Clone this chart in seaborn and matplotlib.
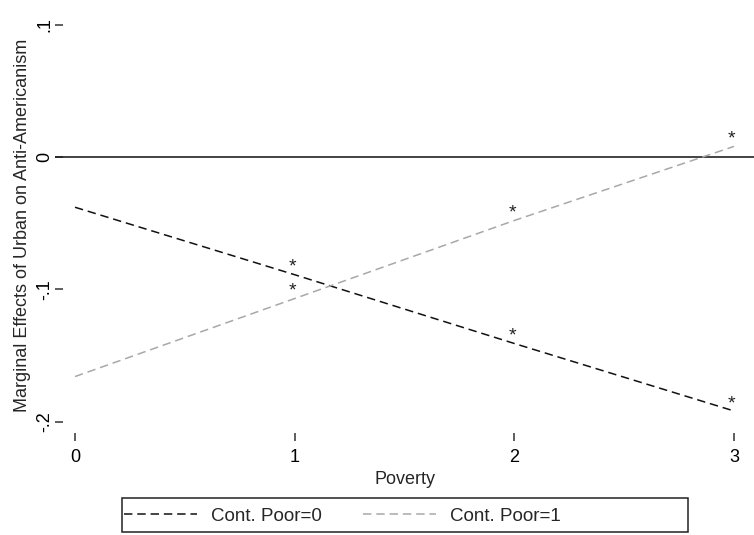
import matplotlib
matplotlib.use("Agg")
import matplotlib.pyplot as plt
from matplotlib.patches import Rectangle
import seaborn as sns
import pandas as pd

# data
poverty = [0, 1, 2, 3]
poor0 = [-0.038, -0.089, -0.141, -0.192]
poor1 = [-0.166, -0.107, -0.048, 0.008]
series_names = ["Cont. Poor=0", "Cont. Poor=1"]
star_x = [1, 2, 3]
y_ticks = [0.1, 0.0, -0.1, -0.2]
y_ticklabels = [".1", "0", "-.1", "-.2"]
x_ticks = [0, 1, 2, 3]

df = pd.DataFrame({
    "Poverty": poverty * 2,
    "Effect": poor0 + poor1,
    "Group": [series_names[0]] * 4 + [series_names[1]] * 4,
})

sns.set_style("white")
plt.rcParams["font.family"] = ["Liberation Sans", "DejaVu Sans"]

fig = plt.figure(figsize=(7.54, 5.35), dpi=100)
W, H = 754, 535
ax = fig.add_axes([55 / W, (H - 441) / H, (W - 55) / W, (441 - 10) / H])

ax.axhline(0, color="#222222", lw=1.2, zorder=1)

sns.lineplot(data=df, x="Poverty", y="Effect", hue="Group", style="Group",
             palette={series_names[0]: "#111111", series_names[1]: "#a8a8a8"},
             dashes={series_names[0]: (5.5, 3.2), series_names[1]: (5.5, 3.2)},
             lw=1.1, ax=ax, zorder=2)

# significance stars above each estimate
for vals in (poor0, poor1):
    for xv in star_x:
        ax.annotate("*", xy=(xv, vals[poverty.index(xv)]), xytext=(-1.5, 2.0),
                    textcoords="offset points", ha="center", va="baseline",
                    fontsize=14, color="#222222")

ax.set_xlim(-0.091, 3.091)
ax.set_ylim(-0.2147, 0.1111)
ax.set_xticks(x_ticks)
ax.set_xticklabels([str(v) for v in x_ticks])
ax.set_yticks(y_ticks)
ax.set_yticklabels(y_ticklabels, rotation=90, va="center")

for s in ax.spines.values():
    s.set_visible(False)
ax.tick_params(axis="both", direction="in", length=6, width=1.1,
               color="#333333", labelsize=13, labelcolor="black")
ax.tick_params(axis="x", pad=6, bottom=True)
ax.tick_params(axis="y", pad=1, left=True)

ax.set_xlabel("Poverty", fontsize=13, labelpad=3)
ax.set_ylabel("Marginal Effects of Urban on Anti-Americanism", fontsize=13,
              labelpad=4)

handles, labels = ax.get_legend_handles_labels()
ax.get_legend().remove()
fig.legend(handles, labels, loc="center left",
           bbox_to_anchor=(124 / W, (H - 516) / H), ncol=2, frameon=False,
           fontsize=13.5, handlelength=3.9, handletextpad=0.75,
           columnspacing=2.2, borderpad=0, borderaxespad=0)
fig.patches.append(Rectangle((122 / W, (H - 532) / H), (688 - 122) / W,
                             (532 - 498) / H, transform=fig.transFigure,
                             fill=False, edgecolor="#222222", lw=1.1))

fig.savefig("out.png", dpi=100)
